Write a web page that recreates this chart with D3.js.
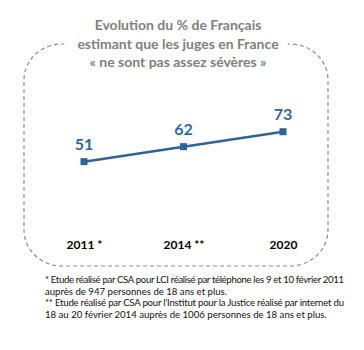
<!DOCTYPE html>
<html>
<head>
<meta charset="utf-8">
<script src="https://cdn.jsdelivr.net/npm/d3@7"></script>
<style>
  body { margin:0; background:#fff; }
  svg { display:block; font-family: Lato, "Noto Sans", sans-serif; }
</style>
</head>
<body>
<div id="chart"></div>
<script>
// data
var years=["2011 *","2014 **","2020"];
var values=[51,62,73];
var titleLines=["Evolution du % de Français","estimant que les juges en France","« ne sont pas assez sévères »"];
var notes=[
  {text:"* Etude réalisé par CSA pour LCI réalisé par téléphone les 9 et 10 février 2011", justify:true},
  {text:"auprès de 947 personnes de 18 ans et plus.", justify:false},
  {text:"** Etude réalisé par CSA pour l’Institut pour la Justice réalisé par internet du", justify:true},
  {text:"18 au 20 février 2014 auprès de 1006 personnes de 18 ans et plus.", justify:false}
];

var W=364,H=350;
var svg=d3.select("#chart").append("svg").attr("width",W).attr("height",H);

// dashed frame
svg.append("rect")
  .attr("x",24).attr("y",44).attr("width",304).attr("height",222)
  .attr("rx",38).attr("ry",36)
  .attr("fill","none").attr("stroke","#8c8c8c")
  .attr("stroke-width",1.2).attr("stroke-dasharray","4,3");

// white gap for the title
svg.append("rect").attr("x",64).attr("y",36).attr("width",224).attr("height",16).attr("fill","#fff");

// title
svg.append("g").selectAll("text")
  .data(titleLines).enter().append("text")
  .attr("x",178).attr("y",function(d,i){ return 30+i*18.5; })
  .attr("text-anchor","middle")
  .attr("font-size",14).attr("font-weight","bold")
  .attr("fill","#7f7f7f")
  .text(function(d){ return d; });

// scales
var x=d3.scalePoint().domain(years).range([84,283]);
var y=d3.scaleLinear().domain([0,100]).range([231,95]);

var lineCol="#2f6399";
var line=d3.line().x(function(d,i){ return x(years[i]); }).y(function(d){ return y(d); });

svg.append("path").datum(values)
  .attr("d",line).attr("fill","none")
  .attr("stroke",lineCol).attr("stroke-width",2.5);

svg.append("g").selectAll("rect")
  .data(values).enter().append("rect")
  .attr("x",function(d,i){ return x(years[i])-3.5; })
  .attr("y",function(d){ return y(d)-3.5; })
  .attr("width",7).attr("height",7)
  .attr("fill",lineCol);

// value labels
svg.append("g").selectAll("text")
  .data(values).enter().append("text")
  .attr("x",function(d,i){ return x(years[i]); })
  .attr("y",function(d){ return y(d)-12; })
  .attr("text-anchor","middle")
  .attr("font-size",16).attr("font-weight","bold")
  .attr("fill","#2f69a6")
  .text(function(d){ return d; });

// x axis labels (no line)
var xAxis=d3.axisBottom(x).tickSize(0).tickPadding(0);
var gx=svg.append("g").attr("transform","translate(0,240)").call(xAxis);
gx.select(".domain").remove();
gx.selectAll("text")
  .attr("font-family","Lato, 'Noto Sans', sans-serif")
  .attr("font-size",12).attr("font-weight","bold").attr("fill","#000");

// footnotes
svg.append("g").selectAll("text")
  .data(notes).enter().append("text")
  .attr("x",45).attr("y",function(d,i){ return 283+i*11.6; })
  .attr("font-size",9.6).attr("fill","#111")
  .attr("textLength",function(d){ return d.justify ? 299 : null; })
  .attr("lengthAdjust","spacing")
  .text(function(d){ return d.text; });
</script>
</body>
</html>
